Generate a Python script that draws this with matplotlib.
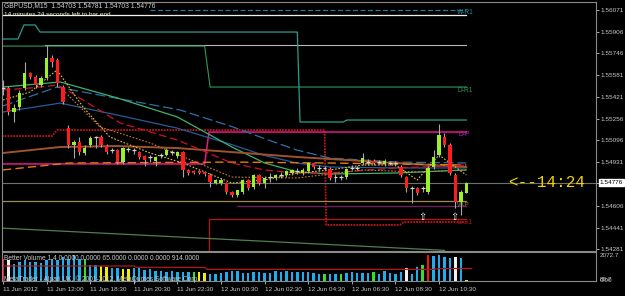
import matplotlib
matplotlib.use('Agg')
import matplotlib.pyplot as plt
import numpy as np

plt.rcParams['font.family'] = ['Liberation Sans', 'DejaVu Sans']

# GBPUSD M15 candles
opens = [1.55487, 1.55487, 1.55307, 1.55344, 1.55487, 1.55599, 1.55569, 1.55509, 1.55562, 1.55711,
         1.55696, 1.55494, 1.55187, 1.55060, 1.55082, 1.55000, 1.55060, 1.55120, 1.55120, 1.55052,
         1.55022, 1.55022, 1.54932, 1.55030, 1.55022, 1.55007, 1.54977, 1.54970, 1.54940, 1.54985,
         1.54985, 1.55007, 1.54977, 1.55007, 1.54873, 1.54865, 1.54865, 1.54858, 1.54835, 1.54775,
         1.54775, 1.54775, 1.54708, 1.54686, 1.54708, 1.54798, 1.54745, 1.54835, 1.54775, 1.54820,
         1.54813, 1.54835, 1.54835, 1.54850, 1.54865, 1.54850, 1.54865, 1.54925, 1.54888, 1.54888,
         1.54880, 1.54820, 1.54820, 1.54820, 1.54888, 1.54888, 1.54925, 1.54932, 1.54940, 1.54932,
         1.54918, 1.54925, 1.54925, 1.54895, 1.54820, 1.54738, 1.54738, 1.54738, 1.54708, 1.54895,
         1.54985, 1.55120, 1.55060, 1.54835, 1.54633, 1.54703]
highs = [1.55547, 1.55502, 1.55367, 1.55472, 1.55682, 1.55607, 1.55584, 1.55577, 1.55809, 1.55734,
         1.55711, 1.55509, 1.55210, 1.55097, 1.55120, 1.55060, 1.55127, 1.55127, 1.55135, 1.55067,
         1.55037, 1.55030, 1.55045, 1.55045, 1.55037, 1.55015, 1.54985, 1.54985, 1.54977, 1.55000,
         1.55037, 1.55022, 1.55015, 1.55015, 1.54880, 1.54873, 1.54873, 1.54865, 1.54850, 1.54805,
         1.54813, 1.54783, 1.54716, 1.54723, 1.54805, 1.54805, 1.54843, 1.54843, 1.54828, 1.54850,
         1.54843, 1.54858, 1.54873, 1.54880, 1.54888, 1.54888, 1.54932, 1.54932, 1.54910, 1.54903,
         1.54895, 1.54843, 1.54835, 1.54888, 1.54910, 1.54903, 1.55000, 1.54955, 1.54955, 1.54947,
         1.54955, 1.54940, 1.54940, 1.54910, 1.54828, 1.54753, 1.54745, 1.54753, 1.54903, 1.55022,
         1.55217, 1.55150, 1.55075, 1.54850, 1.54723, 1.54781]
lows = [1.55434, 1.55285, 1.55232, 1.55322, 1.55472, 1.55554, 1.55487, 1.55494, 1.55547, 1.55644,
        1.55494, 1.55367, 1.55037, 1.54962, 1.54985, 1.54985, 1.55045, 1.55037, 1.55045, 1.54992,
        1.55000, 1.54918, 1.54918, 1.55007, 1.54992, 1.54955, 1.54903, 1.54932, 1.54903, 1.54962,
        1.54977, 1.54985, 1.54962, 1.54820, 1.54835, 1.54843, 1.54843, 1.54828, 1.54745, 1.54768,
        1.54760, 1.54693, 1.54671, 1.54671, 1.54693, 1.54723, 1.54730, 1.54760, 1.54738, 1.54783,
        1.54798, 1.54813, 1.54820, 1.54835, 1.54843, 1.54835, 1.54850, 1.54880, 1.54865, 1.54873,
        1.54798, 1.54783, 1.54798, 1.54805, 1.54873, 1.54873, 1.54910, 1.54910, 1.54910, 1.54918,
        1.54903, 1.54910, 1.54903, 1.54820, 1.54708, 1.54626, 1.54686, 1.54708, 1.54693, 1.54880,
        1.54970, 1.55045, 1.54835, 1.54588, 1.54536, 1.54703]
closes = [1.55487, 1.55307, 1.55337, 1.55449, 1.55599, 1.55569, 1.55509, 1.55562, 1.55711, 1.55682,
          1.55524, 1.55382, 1.55060, 1.55082, 1.55007, 1.55037, 1.55112, 1.55120, 1.55060, 1.55007,
          1.55022, 1.54932, 1.55037, 1.55030, 1.55022, 1.54970, 1.54947, 1.54970, 1.54970, 1.54985,
          1.55022, 1.55007, 1.55007, 1.54873, 1.54850, 1.54850, 1.54850, 1.54843, 1.54783, 1.54798,
          1.54798, 1.54708, 1.54686, 1.54723, 1.54798, 1.54738, 1.54835, 1.54775, 1.54813, 1.54820,
          1.54835, 1.54835, 1.54865, 1.54873, 1.54865, 1.54873, 1.54925, 1.54895, 1.54888, 1.54888,
          1.54813, 1.54820, 1.54820, 1.54880, 1.54888, 1.54888, 1.54962, 1.54932, 1.54925, 1.54932,
          1.54940, 1.54925, 1.54925, 1.54835, 1.54738, 1.54738, 1.54700, 1.54738, 1.54888, 1.54970,
          1.55135, 1.55060, 1.54850, 1.54633, 1.54708, 1.54776]

# Better Volume histogram
volumes = [1800, 1700, 1400, 1500, 1650, 1500, 1550, 1420, 1680, 1800,
           1680, 1950, 1800, 2060, 1800, 1800, 1280, 1280, 1200, 1150,
           1070, 1015, 935, 960, 1015, 1015, 880, 935, 830, 830,
           750, 800, 750, 750, 695, 750, 695, 615, 560, 535,
           615, 750, 800, 830, 660, 615, 695, 695, 615, 660,
           830, 750, 830, 750, 750, 720, 720, 667, 587, 587,
           587, 587, 587, 667, 720, 640, 667, 667, 720, 587,
           774, 667, 587, 720, 1068, 587, 1121, 1255, 2056, 1976,
           2072.7, 1922, 1869, 1922, 1869, 88.7]
vol_kind = ('rw' + 'c' * 13 + 'gccyyccyy' + 'c' * 11 + 'gyy' + 'c' * 21 +
            'gccg' + 'c' * 5 + 'g' + 'c' * 5 + 'wccgr' + 'c' * 4 + 'wcy')
vol_ma_x = [-0.2, 24, 24.5, 37, 37.5, 79, 80, 86]
vol_ma_y = [1200, 1200, 1090, 1090, 930, 930, 1000, 1000]

# moving averages (bar index, price)
ma_green_x = [0, 10.5, 21, 32, 42, 48, 54, 60, 72, 85]
ma_green_y = [1.55494, 1.55532, 1.55412, 1.55270, 1.55045, 1.54925, 1.54858, 1.54843, 1.54850, 1.54873]
ma_blue1_x = [0, 3.1, 9.9, 14.7, 32.5, 42.2, 47.7, 53.9, 60, 72.3, 85]
ma_blue1_y = [1.55352, 1.55397, 1.55494, 1.55457, 1.55322, 1.55195, 1.55112, 1.55022, 1.54962, 1.54932, 1.54925]
ma_blue2_x = [0, 10.5, 20.9, 31.9, 42.2, 47.7, 53.9, 60, 72.3, 85]
ma_blue2_y = [1.55307, 1.55374, 1.55285, 1.55187, 1.55060, 1.54985, 1.54925, 1.54895, 1.54888, 1.54888]
ma_brown_x = [0, 10.5, 21, 32, 42, 54, 72, 85]
ma_brown_y = [1.55000, 1.55045, 1.55052, 1.55037, 1.55007, 1.54970, 1.54925, 1.54895]
ma_orange_x = [0, 12, 42, 60, 85]
ma_orange_y = [1.54873, 1.54925, 1.54932, 1.54925, 1.54910]
ma_red_x = [0, 5, 10, 11.7, 21.5, 32, 42, 48, 54, 60, 72, 85]
ma_red_y = [1.55472, 1.55487, 1.55509, 1.55472, 1.55225, 1.55097, 1.54925, 1.54873, 1.54850, 1.54850, 1.54888, 1.54910]
ma_fast_x = [0, 5, 9.9, 14.7, 19.6, 27, 33, 42, 48, 54, 60, 66, 72, 76, 80, 85]
ma_fast_y = [1.55397, 1.55457, 1.55622, 1.55344, 1.55120, 1.55000, 1.54925, 1.54775, 1.54798, 1.54850,
             1.54873, 1.54910, 1.54910, 1.54798, 1.54985, 1.54835]
ma_slow_x = [11, 17.8, 27, 42, 54, 66, 76, 85]
ma_slow_y = [1.55472, 1.55195, 1.55075, 1.54820, 1.54813, 1.54873, 1.54858, 1.54873]

# pivot / level lines (bar index, price)
wr1_x, wr1_y = [27, 85], [1.56071, 1.56071]
white_x, white_y = [-0.2, 85], [1.56034, 1.56034]
gray_x, gray_y = [7.7, 85], [1.55809, 1.55809]
dr1_x = [-0.2, 37, 38, 85]
dr1_y = [1.55801, 1.55801, 1.55494, 1.55494]
teal_x = [-0.2, 2.75, 3.85, 5.9, 6.8, 54, 54.5, 62.4, 63.1, 85]
teal_y = [1.55854, 1.55854, 1.55959, 1.55959, 1.55906, 1.55906, 1.55232, 1.55232, 1.55247, 1.55247]
reddot_x = [-0.2, 9, 9.9, 59, 59.3, 72.8, 73.5, 85]
reddot_y = [1.55127, 1.55127, 1.55172, 1.55172, 1.54461, 1.54461, 1.54483, 1.54483]
ds1_x = [37.8, 37.8, 85]
ds1_y = [1.54266, 1.54506, 1.54506]
dp_x = [-0.2, 37, 37.8, 85]
dp_y = [1.54918, 1.54918, 1.55157, 1.55157]
wp_x, wp_y = [-0.2, 85], [1.54641, 1.54641]
purple_x, purple_y = [43, 85], [1.54603, 1.54603]
trend_x, trend_y = [-0.5, 81], [1.54438, 1.54271]

price_ticks = [1.56071, 1.55906, 1.55746, 1.55581, 1.55421, 1.55256,
               1.55096, 1.54931, 1.54776, 1.54606, 1.54441, 1.54281]
time_labels = ['11 Jun 2012', '11 Jun 12:00', '11 Jun 18:30', '11 Jun 20:30', '11 Jun 22:30',
               '12 Jun 00:30', '12 Jun 02:30', '12 Jun 04:30', '12 Jun 06:30', '12 Jun 08:30',
               '12 Jun 10:30']
last_price = 1.54776

W, H = 625, 296
fig = plt.figure(figsize=(W / 100, H / 100), dpi=100, facecolor='black')
ax = fig.add_axes([2 / W, 1 - 251 / H, 594 / W, 249 / H], facecolor='black')
ax2 = fig.add_axes([2 / W, 1 - 281 / H, 594 / W, 29 / H], facecolor='black', sharex=ax)

n = len(opens)
idx = np.arange(n)
o, h, l, c = map(np.array, (opens, highs, lows, closes))

# level lines
ax.plot(wr1_x, wr1_y, color='#1f7a9a', lw=0.9, ls=(0, (4, 2)))
ax.plot(white_x, white_y, color='#f0f0f0', lw=0.9)
ax.plot(gray_x, gray_y, color='#b8b8b8', lw=0.8)
ax.plot(dr1_x, dr1_y, color='#2e9a5a', lw=0.8)
ax.plot(teal_x, teal_y, color='#2a9d8f', lw=0.9)
ax.plot(reddot_x, reddot_y, color='#c01818', lw=1.3, ls=(0, (1, 0.6)))
ax.plot(ds1_x, ds1_y, color='#b81414', lw=0.9)
ax.plot(dp_x, dp_y, color='#e6188c', lw=1.1)
ax.plot(wp_x, wp_y, color='#a08a50', lw=0.9)
ax.plot(purple_x, purple_y, color='#70205f', lw=0.9)
ax.plot(trend_x, trend_y, color='#4f7f50', lw=0.9)
ax.axhline(last_price, color='#707070', lw=0.8)

# moving averages
ax.plot(ma_blue1_x, ma_blue1_y, color='#2f6fa8', lw=0.9, ls=(0, (8, 3)))
ax.plot(ma_blue2_x, ma_blue2_y, color='#2a5a9a', lw=0.9)
ax.plot(ma_green_x, ma_green_y, color='#3cb371', lw=0.9)
ax.plot(ma_brown_x, ma_brown_y, color='#a0522d', lw=1.4)
ax.plot(ma_orange_x, ma_orange_y, color='#e07a10', lw=1.0, ls=(0, (6, 3)))
ax.plot(ma_red_x, ma_red_y, color='#d0102a', lw=0.9, ls=(0, (6, 3)))
ax.plot(ma_slow_x, ma_slow_y, color='#c87830', lw=0.8, ls=(0, (1.5, 1.5)))
ax.plot(ma_fast_x, ma_fast_y, color='#e0c040', lw=0.8, ls=(0, (1.5, 1.5)))

# candles
ax.vlines(idx, l, h, color='#a8a8a8', lw=0.8, zorder=4)
up = c > o
dn = c < o
flat = c == o
ax.bar(idx[up], (c - o)[up], bottom=o[up], width=0.62, color='#9cf02a', zorder=5)
ax.bar(idx[dn], (c - o)[dn], bottom=o[dn], width=0.62, color='#ff1c1c', zorder=5)
ax.hlines(o[flat], idx[flat] - 0.35, idx[flat] + 0.35, color='#d8d8d8', lw=0.9, zorder=5)

ax.set_xlim(-0.18, 108.8)
ax.set_ylim(1.54266, 1.56131)
ax.yaxis.tick_right()
ax.set_yticks(price_ticks)
ax.set_yticklabels(['%.5f' % p for p in price_ticks])
ax.tick_params(axis='y', colors='#c8c8c8', labelsize=4.6, length=2, pad=1.5, width=0.6)
ax.tick_params(axis='x', bottom=False, labelbottom=False)
for s in ax.spines.values():
    s.set_color('#8a8a8a')
    s.set_linewidth(0.8)

# price tag on the axis
ax.annotate('%.5f' % last_price, xy=(1.006, last_price), xycoords=('axes fraction', 'data'),
            fontsize=4.6, color='black', va='center', ha='left',
            bbox=dict(boxstyle='square,pad=0.15', fc='white', ec='white'), annotation_clip=False)
ax.text(92.6, last_price, '<--14:24', color='#f0d000', fontsize=11.5,
        family='Liberation Mono', va='center', ha='left')

# level labels
lab = dict(fontsize=4.8, va='center', ha='left')
ax.text(83.3, 1.56050, 'W-R1', color='#2a8aa0', **lab)
ax.text(83.3, 1.55465, 'D-R1', color='#2e9a5a', **lab)
ax.text(83.5, 1.55140, 'D-P', color='#c020c0', **lab)
ax.text(83.3, 1.54610, 'W-P', color='#8a7a40', **lab)
ax.text(83.3, 1.54483, 'D-S1', color='#b01818', **lab)
for bx in (76.9, 82.9):
    ax.text(bx, 1.54521, '\u21e7', color='white', fontsize=7, family='DejaVu Sans',
            ha='center', va='center')

# volume panel
cmap = {'c': '#1eaef0', 'y': '#f0f000', 'g': '#30e030', 'w': '#f0f0f0', 'r': '#ff1010'}
ax2.bar(idx, volumes, width=0.45, color=[cmap[k] for k in vol_kind])
ax2.plot(vol_ma_x, vol_ma_y, color='#b01818', lw=0.9)
ax2.set_ylim(0, 2320)
ax2.set_yticks([])
ax2.set_xticks(np.arange(0, 81, 8))
ax2.set_xticklabels(time_labels)
ax2.tick_params(axis='x', colors='#c8c8c8', labelsize=4.6, length=2.5, pad=1.5, width=0.6)
for t in ax2.get_xticklabels():
    t.set_ha('left')
for s in ax2.spines.values():
    s.set_color('#8a8a8a')
    s.set_linewidth(0.8)
ax2.text(1.006, 2072.7, '2072.7', transform=ax2.get_yaxis_transform(), color='#c8c8c8',
         fontsize=4.6, va='center')
ax2.text(1.006, 140, '88.7', transform=ax2.get_yaxis_transform(), color='#c8c8c8',
         fontsize=4.6, va='center')
ax2.text(1.006, 60, '0.00', transform=ax2.get_yaxis_transform(), color='#c8c8c8',
         fontsize=4.6, va='center')

# header texts
fig.text(4 / W, 1 - 6 / H, 'GBPUSD,M15  1.54703 1.54781 1.54703 1.54776', color='#d0d0d0',
         fontsize=4.9, va='center')
fig.text(4 / W, 1 - 14 / H, '14 minutes 24 seconds left to bar end', color='#f0f0d0',
         fontsize=4.6, va='center')
fig.text(4 / W, 1 - 258 / H,
         'Better Volume 1.4 0.0000 0.0000 65.0000 0.0000 0.0000 914.0000',
         color='#c8c8c8', fontsize=4.8, va='center')
fig.text(4 / W, 1 - 279 / H,
         'MetaTrader - Alpari UK, \u00a9 2001-2012, MetaQuotes Software Corp.',
         color='#c8c8c8', fontsize=4.8, va='center')

fig.savefig('out.png', dpi=100, facecolor='black')
